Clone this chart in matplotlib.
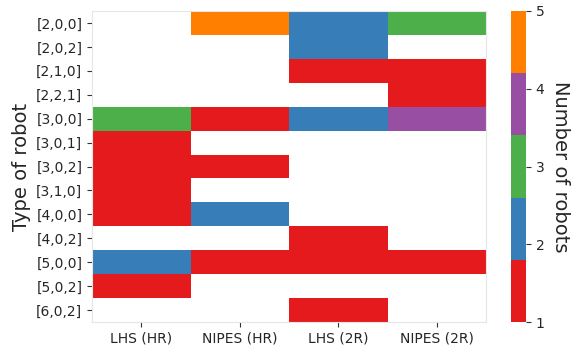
import matplotlib
matplotlib.use("Agg")
import matplotlib.pyplot as plt
import numpy as np
from matplotlib.colors import ListedColormap

ROBOT_TYPES = ["[2,0,0]", "[2,0,2]", "[2,1,0]", "[2,2,1]", "[3,0,0]", "[3,0,1]",
               "[3,0,2]", "[3,1,0]", "[4,0,0]", "[4,0,2]", "[5,0,0]", "[5,0,2]",
               "[6,0,2]"]
METHODS = ["LHS (HR)", "NIPES (HR)", "LHS (2R)", "NIPES (2R)"]
nan = np.nan
LHS_HR = [nan, nan, nan, nan, 3, 1, 1, 1, 1, nan, 2, 1, nan]
NIPES_HR = [5, nan, nan, nan, 1, nan, 1, nan, 2, nan, 1, nan, nan]
LHS_2R = [2, 2, 1, nan, 2, nan, nan, nan, nan, 1, 1, nan, 1]
NIPES_2R = [3, nan, 1, 1, 4, nan, nan, nan, nan, nan, 1, nan, nan]

COLORS = ["#e41a1c", "#377eb8", "#4daf4a", "#984ea3", "#ff7f00"]
TEXT = "#262626"

values = np.ma.masked_invalid(np.array([LHS_HR, NIPES_HR, LHS_2R, NIPES_2R]).T)
cmap = ListedColormap(COLORS)

fig = plt.figure(figsize=(5.74, 3.49), dpi=100)
ax = fig.add_axes([92 / 574, 1 - 322 / 349, 394 / 574, 311 / 349])
cax = fig.add_axes([511 / 574, 1 - 322 / 349, 15 / 574, 311 / 349])

mesh = ax.pcolormesh(values, cmap=cmap, vmin=1, vmax=5)
ax.set_xlim(0, len(METHODS))
ax.set_ylim(len(ROBOT_TYPES), 0)
ax.set_xticks(np.arange(len(METHODS)) + 0.5)
ax.set_xticklabels(METHODS)
ax.set_yticks(np.arange(len(ROBOT_TYPES)) + 0.5)
ax.set_yticklabels(ROBOT_TYPES)
ax.tick_params(labelsize=10, colors="#333333", labelcolor=TEXT, length=3.5, width=0.8)
ax.set_ylabel("Type of robot", fontsize=14, color=TEXT, labelpad=4)
for spine in ax.spines.values():
    spine.set_color("#e6e6e6")
    spine.set_linewidth(0.8)

cbar = fig.colorbar(mesh, cax=cax)
cbar.set_ticks([1, 2, 3, 4, 5])
cbar.ax.tick_params(labelsize=10, colors="#333333", labelcolor=TEXT, length=3.5, width=0.8)
cbar.outline.set_visible(False)
cbar.set_label("Number of robots", fontsize=14, color=TEXT, rotation=270, labelpad=18)

fig.savefig("out.png", dpi=100)
